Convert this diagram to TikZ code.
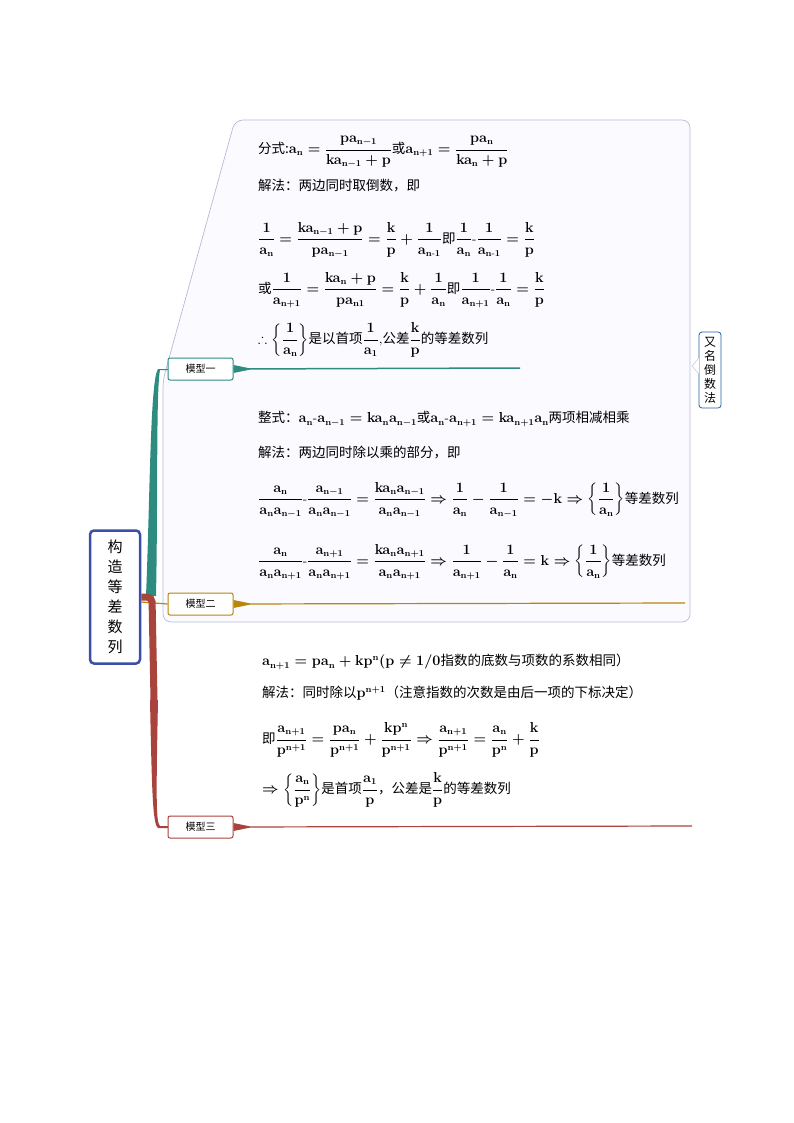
\documentclass[tikz,border=0pt]{standalone}
\usepackage{amsmath,amssymb}
\usepackage{fontspec}
\newfontfamily\cjk{Noto Sans CJK SC}
\usetikzlibrary{calc}
\newcommand{\zh}[1]{\mbox{\cjk #1}}
\newcommand{\m}[1]{$\mathbf{#1}$}
\definecolor{teal1}{HTML}{2E8B80}
\definecolor{gold1}{HTML}{B8860B}
\definecolor{red1}{HTML}{A8443C}
\definecolor{blue1}{HTML}{3A4FA8}
\definecolor{gray1}{HTML}{B4BCD8}
\begin{document}
\begin{tikzpicture}[x=1pt,y=-1pt,
  fml/.style={anchor=west,inner sep=0pt,font=\fontsize{13.5}{15}\selectfont\boldmath},
  modbox/.style={draw=#1,line width=1pt,rounded corners=2pt,fill=white,minimum width=65pt,minimum height=22pt,font=\fontsize{10}{11}\cjk,inner sep=0pt}]
\useasboundingbox (0,0) rectangle (794,1123);
% callout
\draw[gray1,line width=0.7pt,fill=white!98!blue,rounded corners=8pt] (235,120) -- (690,120) -- (690,622) -- (163,622) -- (163,380) -- cycle;
\node[draw=teal1!70!blue,line width=0.8pt,rounded corners=3pt,fill=white,minimum width=22pt,minimum height=76pt,text width=13pt,align=center,inner sep=1pt,font=\fontsize{12}{14}\cjk] (alias) at (710,370) {又\\名\\倒\\数\\法};
\draw[gray1,fill=white] (699,358) -- (692,366) -- (699,374);
% root
\node[draw=blue1,line width=2.5pt,rounded corners=4pt,fill=white,minimum width=50pt,minimum height=133pt,text width=18pt,align=center,font=\fontsize{15}{20}\cjk] (root) at (115,597) {构\\造\\等\\差\\数\\列};
% models
\node[modbox=teal1] (m1) at (200.5,369) {模型一};
\node[modbox=gold1] (m2) at (200.5,604) {模型二};
\node[modbox=red1] (m3) at (200.5,827) {模型三};
% branches
\fill[teal1] (146,596) .. controls (150,500) and (150,380) .. (158,369) -- (168,369) -- (168,370) -- (160,370) .. controls (156,390) and (158,500) .. (156,596) -- cycle;
\draw[gold1,line width=1.2pt] (root.east) ++(0,5) -- (m2.west);
\draw[red1,line width=7pt,rounded corners=5pt] (root.east) ++(0,0) -- (152,597) -- (154,700);
\fill[red1] (150,700) -- (158,700) .. controls (156,800) and (156,822) .. (160,826) -- (168,826) -- (168,828) -- (158,828) .. controls (153,824) and (152,800) .. (150,700) -- cycle;
\coordinate (e1) at (520,368);
\coordinate (e2) at (685,603);
\coordinate (e3) at (692,826);
\fill[teal1] (m1.east) ++(0,-4) -- ++(16,3.3) -- ++(0,1.4) -- ++(-16,3.3) -- cycle;
\draw[teal1,line width=1.5pt] (m1.east) -- (e1);
\fill[gold1] (m2.east) ++(0,-4) -- ++(16,3.3) -- ++(0,1.4) -- ++(-16,3.3) -- cycle;
\draw[gold1,line width=1.2pt] (m2.east) -- (e2);
\fill[red1] (m3.east) ++(0,-4) -- ++(16,3.3) -- ++(0,1.4) -- ++(-16,3.3) -- cycle;
\draw[red1,line width=1.2pt] (m3.east) -- (e3);
% model 1 text
\node[fml] (a1) at (258,152) {\zh{分式:}\m{a_n=\dfrac{pa_{n-1}}{ka_{n-1}+p}}\zh{或}\m{a_{n+1}=\dfrac{pa_n}{ka_n+p}}};
\node[fml] (a2) at (258,186) {\zh{解法：两边同时取倒数，即}};
\node[fml] (a3) at (258,240) {\m{\dfrac{1}{a_n}=\dfrac{ka_{n-1}+p}{pa_{n-1}}=\dfrac{k}{p}+\dfrac{1}{a_{n\text{-}1}}}\zh{即}\m{\dfrac{1}{a_n}\text{-}\dfrac{1}{a_{n\text{-}1}}=\dfrac{k}{p}}};
\node[fml] (a4) at (258,290) {\zh{或}\m{\dfrac{1}{a_{n+1}}=\dfrac{ka_n+p}{pa_{n1}}=\dfrac{k}{p}+\dfrac{1}{a_n}}\zh{即}\m{\dfrac{1}{a_{n+1}}\text{-}\dfrac{1}{a_n}=\dfrac{k}{p}}};
\node[fml] (a5) at (258,340) {\m{\therefore\left\{\dfrac{1}{a_n}\right\}}\zh{是以首项}\m{\dfrac{1}{a_1}},\zh{公差}\m{\dfrac{k}{p}}\zh{的等差数列}};
% model 2 text
\node[fml] (b1) at (258,419) {\zh{整式：}\m{a_n\text{-}a_{n-1}=ka_na_{n-1}}\zh{或}\m{a_n\text{-}a_{n+1}=ka_{n+1}a_n}\zh{两项相减相乘}};
\node[fml] (b2) at (258,453) {\zh{解法：两边同时除以乘的部分，即}};
\node[fml] (b3) at (258,500) {\m{\dfrac{a_n}{a_na_{n-1}}\text{-}\dfrac{a_{n-1}}{a_na_{n-1}}=\dfrac{ka_na_{n-1}}{a_na_{n-1}}\Rightarrow\dfrac{1}{a_n}-\dfrac{1}{a_{n-1}}=-k\Rightarrow\left\{\dfrac{1}{a_n}\right\}}\zh{等差数列}};
\node[fml] (b4) at (258,562) {\m{\dfrac{a_n}{a_na_{n+1}}\text{-}\dfrac{a_{n+1}}{a_na_{n+1}}=\dfrac{ka_na_{n+1}}{a_na_{n+1}}\Rightarrow\dfrac{1}{a_{n+1}}-\dfrac{1}{a_n}=k\Rightarrow\left\{\dfrac{1}{a_n}\right\}}\zh{等差数列}};
% model 3 text
\node[fml] (c1) at (262,662) {\m{a_{n+1}=pa_n+kp^n(p\neq1/0}\zh{指数的底数与项数的系数相同）}};
\node[fml] (c2) at (262,693) {\zh{解法：同时除以}\m{p^{n+1}}\zh{（注意指数的次数是由后一项的下标决定）}};
\node[fml] (c3) at (262,740) {\zh{即}\m{\dfrac{a_{n+1}}{p^{n+1}}=\dfrac{pa_n}{p^{n+1}}+\dfrac{kp^n}{p^{n+1}}\Rightarrow\dfrac{a_{n+1}}{p^{n+1}}=\dfrac{a_n}{p^n}+\dfrac{k}{p}}};
\node[fml] (c4) at (262,790) {\m{\Rightarrow\left\{\dfrac{a_n}{p^n}\right\}}\zh{是首项}\m{\dfrac{a_1}{p}}\zh{，公差是}\m{\dfrac{k}{p}}\zh{的等差数列}};
\end{tikzpicture}
\end{document}
